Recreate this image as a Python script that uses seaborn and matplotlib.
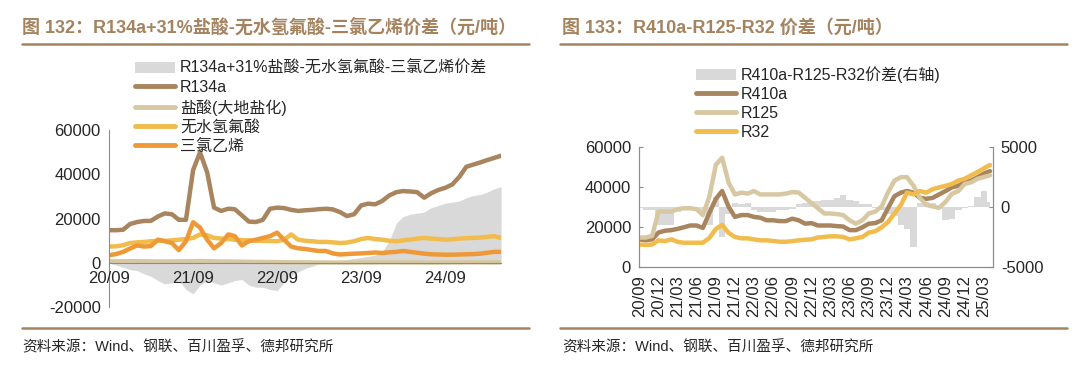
import pandas as pd
import matplotlib
matplotlib.use("Agg")
import matplotlib.pyplot as plt
import matplotlib.dates as mdates
from matplotlib.patches import Patch
from matplotlib.lines import Line2D
import seaborn as sns

sns.set_style("white")
plt.rcParams['font.family'] = ['Liberation Sans', 'Noto Sans CJK SC']
plt.rcParams['axes.unicode_minus'] = False

# 图132 数据（月度，2020-09 ~ 2025-05，元/吨）
r134a = [14800, 14800, 15000, 17600, 18500, 19000, 19000, 21000, 22400, 22000,
         19500, 19500, 42000, 50000, 41000, 25000, 23500, 24500, 24300, 21500,
         18700, 18500, 19500, 24500, 25000, 24800, 24000, 23500, 23800, 24000,
         24300, 24500, 24200, 23000, 21200, 22000, 26000, 26800, 26500, 28000,
         30500, 32000, 32500, 32300, 32000, 29500, 31500, 33000, 34000, 35500,
         39000, 43500, 44500, 45500, 46500, 47500, 48500]
hcl = [700, 700, 750, 800, 800, 750, 700, 650, 650, 700,
       700, 750, 800, 850, 800, 700, 650, 600, 600, 550,
       500, 450, 400, 400, 350, 300, 300, 250, 250, 200,
       200, 200, 150, 150, 150, 150, 200, 200, 200, 250,
       250, 250, 200, 200, 200, 150, 150, 150, 200, 200,
       200, 250, 250, 250, 200, 200, 200]
hf = [7400, 7500, 8000, 9000, 9300, 9500, 9800, 10000, 10000, 10200,
      10500, 10800, 11300, 12900, 12500, 11300, 11000, 10800, 10500, 10300,
      10200, 10000, 10000, 9900, 9800, 10500, 12900, 10500, 10000, 9800,
      9500, 9500, 9300, 9000, 9200, 9800, 10800, 11300, 10800, 10500,
      10000, 9800, 10200, 10500, 11000, 11300, 11000, 10800, 10500, 10700,
      11000, 11200, 11300, 11500, 11800, 12100, 11300]
tce = [3500, 4000, 5000, 6500, 7900, 7400, 7600, 10500, 9800, 9000,
       5800, 9800, 18400, 16000, 10500, 6600, 9000, 12900, 12100, 7900,
       9800, 10500, 11300, 12100, 13700, 10500, 7400, 6600, 6300, 5800,
       5400, 5400, 4300, 3800, 4000, 4200, 4300, 4500, 4700, 4500,
       4800, 5000, 5400, 5000, 4600, 4200, 3900, 3800, 3700, 3700,
       3800, 3900, 4000, 4200, 4600, 5000, 5000]
gap134 = [0, -1000, -2000, -3000, -3500, -5000, -6000, -8000, -9500, -9000,
          -8000, -12000, -14000, -10000, -8000, -9000, -10000, -9000, -8000, -7500,
          -10000, -11000, -11000, -12000, -12500, -9000, -6000, -4000, -2500, -1500,
          -500, 0, 500, 1000, 1500, 2000, 2500, 3000, 3500, 5000,
          10000, 18000, 21000, 22000, 22500, 23000, 25000, 26000, 27000, 27500,
          28000, 29500, 30500, 31000, 32000, 33500, 34500]

# 图133 数据（月度，2020-09 ~ 2025-04，元/吨）
r410a = [13800, 13300, 13800, 17200, 18100, 18400, 19000, 19800, 20700, 20700,
         19500, 27000, 34000, 37900, 30000, 25000, 25900, 25900, 25000, 24600,
         23300, 23300, 22900, 22900, 24100, 23300, 21600, 21900, 20700, 20700,
         20700, 20400, 20200, 18400, 18400, 19800, 21600, 21900, 23300, 29300,
         35300, 37100, 37900, 37100, 34500, 34000, 34500, 36200, 37900, 39700,
         40500, 42200, 43100, 44800, 46500, 47800]
r125 = [14700, 14700, 15500, 27600, 27600, 27600, 28800, 29300, 29300, 28800,
        25900, 35000, 51000, 54500, 42000, 36200, 37100, 36600, 37900, 36200,
        36200, 36200, 36200, 36600, 37400, 37100, 34500, 31900, 29300, 26700,
        26700, 26400, 25900, 23300, 21600, 23300, 26700, 27600, 30200, 37100,
        43100, 44800, 44800, 40500, 34500, 31000, 30200, 29500, 32500, 36500,
        37900, 41400, 42200, 44000, 44800, 45700]
r32 = [11200, 11000, 11200, 13300, 12900, 13800, 12600, 12100, 12100, 12100,
       12100, 14500, 19000, 21000, 17000, 15000, 14300, 14300, 13800, 13300,
       13300, 13000, 12600, 12600, 12900, 13300, 13600, 13800, 14700, 15000,
       15300, 15300, 15000, 13800, 14300, 15000, 17200, 17800, 19800, 22400,
       26700, 31000, 37100, 36200, 37900, 37100, 38800, 39700, 40500, 41400,
       43100, 44000, 45700, 47400, 49100, 50900]
gap410 = [-100, -300, -300, -1500, -1500, -1500, -400, -300, -300, -300,
          -500, -1500, 800, -2500, -600, 300, 200, 300, -300, -400,
          -400, -400, -300, -300, -200, 200, 300, 500, 500, 600,
          600, 700, 1000, 600, 500, 200, 200, -100, -300, -600,
          -800, -1500, -1800, -3300, 300, 400, 300, -200, -1100, -1000,
          -300, -100, 100, 800, 1300, 400]

dates_l = pd.date_range("2020-09-01", periods=len(r134a), freq="MS")
dates_r = pd.date_range("2020-09-01", periods=len(r410a), freq="MS")

BROWN = '#a8855e'
BEIGE = '#d8c8a2'
YELLOW = '#f1bc4c'
ORANGE = '#ee9935'
GREY = '#d9d9d9'
TITLE_C = '#a5835f'
AXC = '#8c8c8c'

fig = plt.figure(figsize=(10.8, 3.82), dpi=100)

# ---- 左图 ----
ax1 = fig.add_axes([0.101, 0.196, 0.363, 0.463])
ax1.set_axisbelow(False)
ax1.fill_between(dates_l, 0, gap134, color=GREY, lw=0, zorder=0.3)
for vals, col in [(r134a, BROWN), (hcl, BEIGE), (hf, YELLOW), (tce, ORANGE)]:
    sns.lineplot(x=dates_l, y=vals, ax=ax1, color=col, lw=3.2)
ax1.set_xlim(dates_l[0], dates_l[-1])
ax1.set_ylim(-20000, 60000)
ax1.set_yticks([-20000, 0, 20000, 40000, 60000])
ax1.xaxis.set_major_locator(mdates.MonthLocator(bymonth=9))
ax1.xaxis.set_major_formatter(mdates.DateFormatter('%y/%m'))
for s in ['top', 'right']:
    ax1.spines[s].set_visible(False)
ax1.spines['bottom'].set_position(('data', 0))
for s in ['left', 'bottom']:
    ax1.spines[s].set_color(AXC)
ax1.tick_params(direction='in', length=3, color=AXC, labelsize=12, pad=6)
ax1.set_xlabel('')
ax1.set_ylabel('')

h1 = [Patch(color=GREY, lw=0),
      Line2D([], [], color=BROWN, lw=3.5),
      Line2D([], [], color=BEIGE, lw=3.5),
      Line2D([], [], color=YELLOW, lw=3.5),
      Line2D([], [], color=ORANGE, lw=3.5)]
l1 = ['R134a+31%盐酸-无水氢氟酸-三氯乙烯价差', 'R134a', '盐酸(大地盐化)', '无水氢氟酸', '三氯乙烯']
fig.legend(h1, l1, loc='upper left', bbox_to_anchor=(0.118, 0.862), frameon=False,
           fontsize=11.5, borderpad=0, handlelength=2.5, handletextpad=0.3, labelspacing=0.25)

# ---- 右图 ----
ax2 = fig.add_axes([0.592, 0.301, 0.327, 0.315])
ax2r = ax2.twinx()
ax2r.fill_between(dates_r, 0, gap410, step='mid', color=GREY, lw=0)
ax2r.set_ylim(-5000, 5000)
ax2r.set_yticks([-5000, 0, 5000])
ax2.set_zorder(ax2r.get_zorder() + 1)
ax2.patch.set_visible(False)
for vals, col in [(r410a, BROWN), (r125, BEIGE), (r32, YELLOW)]:
    sns.lineplot(x=dates_r, y=vals, ax=ax2, color=col, lw=3.2)
ax2.set_ylim(0, 60000)
ax2.set_yticks([0, 20000, 40000, 60000])
ax2.set_xlim(dates_r[0], pd.Timestamp('2025-04-13'))
qt = pd.date_range('2020-09-01', '2025-03-01', freq='3MS')
ax2.set_xticks(qt)
ax2.set_xticklabels([d.strftime('%y/%m') for d in qt], rotation=90)
for a in [ax2, ax2r]:
    a.spines['top'].set_visible(False)
    for s in ['left', 'right', 'bottom']:
        a.spines[s].set_color(AXC)
    a.tick_params(direction='in', length=3, color=AXC, labelsize=12, pad=6)
    a.set_xlabel('')
    a.set_ylabel('')

h2 = [Patch(color=GREY, lw=0),
      Line2D([], [], color=BROWN, lw=3.5),
      Line2D([], [], color=BEIGE, lw=3.5),
      Line2D([], [], color=YELLOW, lw=3.5)]
l2 = ['R410a-R125-R32价差(右轴)', 'R410a', 'R125', 'R32']
fig.legend(h2, l2, loc='upper left', bbox_to_anchor=(0.637, 0.848), frameon=False,
           fontsize=11.5, borderpad=0, handlelength=2.5, handletextpad=0.3, labelspacing=0.25)

# ---- 标题、分隔线、来源 ----
fig.text(22 / 1080, 1 - 27.7 / 382, '图 132：R134a+31%盐酸-无水氢氟酸-三氯乙烯价差（元/吨）',
         color=TITLE_C, fontsize=13, fontweight='bold', va='center', ha='left')
fig.text(562 / 1080, 1 - 27.7 / 382, '图 133：R410a-R125-R32 价差（元/吨）',
         color=TITLE_C, fontsize=13, fontweight='bold', va='center', ha='left')
for x0, x1 in [(22, 529), (560, 1067)]:
    for yy in [44, 327.7]:
        fig.add_artist(Line2D([x0 / 1080, x1 / 1080], [1 - yy / 382] * 2, color=TITLE_C, lw=1.8))
for x0 in [22, 562]:
    fig.text(x0 / 1080, 1 - 347 / 382, '资料来源：Wind、钢联、百川盈孚、德邦研究所',
             fontsize=10.5, va='center', ha='left')

fig.savefig('out.png', dpi=100)
